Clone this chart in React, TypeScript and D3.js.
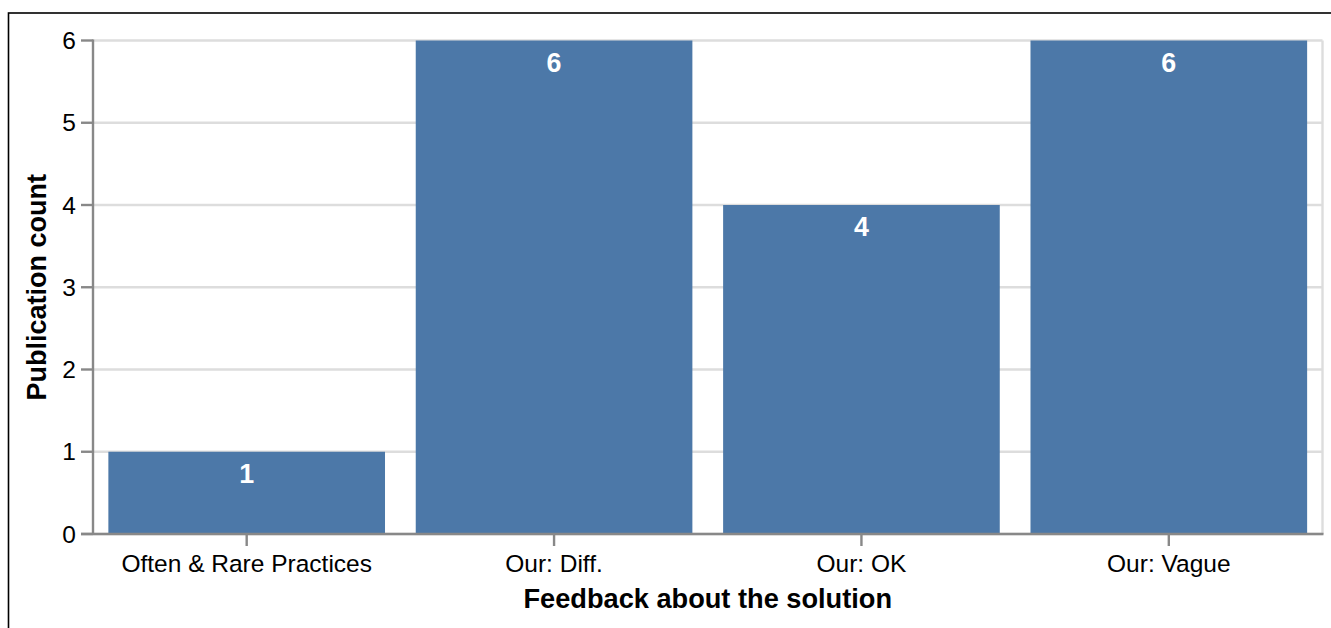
import React from "react";
import * as d3 from "d3";

const categories = ["Often & Rare Practices", "Our: Diff.", "Our: OK", "Our: Vague"];
const counts = [1, 6, 4, 6];
const yTicks = [0, 1, 2, 3, 4, 5, 6];
const xTitle = "Feedback about the solution";
const yTitle = "Publication count";

export default function App() {
  const W = 1331, H = 628;
  const left = 93, right = 1322.5, top = 40.5, bottom = 534;
  const s = 2.4;
  const x = d3.scaleBand<string>().domain(categories).range([left, right]).paddingInner(0.1).paddingOuter(0.05);
  const y = d3.scaleLinear().domain([0, 6]).range([bottom, top]);
  const font = "Arial, 'Liberation Sans', Helvetica, sans-serif";
  return (
    <svg width={W} height={H} style={{ position: "absolute", left: 0, top: 0, background: "#fff" }} fontFamily={font}>
      <rect x={8.5} y={13} width={1400} height={700} fill="none" stroke="#000" strokeWidth={1.6} />
      {yTicks.map((t) => (
        <line key={"g" + t} x1={left} x2={right} y1={y(t)} y2={y(t)} stroke="#ddd" strokeWidth={s} />
      ))}
      <line x1={right} x2={right} y1={top} y2={bottom} stroke="#ddd" strokeWidth={s} />
      {categories.map((c, i) => (
        <rect key={c} x={x(c)} y={y(counts[i])} width={x.bandwidth()} height={bottom - y(counts[i])} fill="#4c78a8" />
      ))}
      {categories.map((c, i) => (
        <text key={"l" + c} x={(x(c) as number) + x.bandwidth() / 2} y={y(counts[i]) + 31} textAnchor="middle"
          fill="#fff" fontWeight="bold" fontSize={26.8}>{counts[i]}</text>
      ))}
      <line x1={left} x2={left} y1={top - 1} y2={bottom + 1} stroke="#888" strokeWidth={s} />
      {yTicks.map((t) => (
        <g key={"y" + t}>
          <line x1={left - 12} x2={left} y1={y(t)} y2={y(t)} stroke="#888" strokeWidth={s} />
          <text x={left - 17} y={y(t)} dy="0.35em" textAnchor="end" fontSize={24.5} fill="#000">{t}</text>
        </g>
      ))}
      <text transform={`translate(46,${(top + bottom) / 2}) rotate(-90)`} textAnchor="middle" fontWeight="bold" fontSize={27} fill="#000">{yTitle}</text>
      <line x1={left - 12} x2={right + 1} y1={bottom} y2={bottom} stroke="#888" strokeWidth={s} />
      {categories.map((c) => {
        const cx = (x(c) as number) + x.bandwidth() / 2;
        return (
          <g key={"x" + c}>
            <line x1={cx} x2={cx} y1={bottom} y2={bottom + 12} stroke="#888" strokeWidth={s} />
            <text x={cx} y={572} textAnchor="middle" fontSize={24.5} fill="#000">{c}</text>
          </g>
        );
      })}
      <text x={(left + right) / 2} y={608} textAnchor="middle" fontWeight="bold" fontSize={27.2} fill="#000">{xTitle}</text>
    </svg>
  );
}
